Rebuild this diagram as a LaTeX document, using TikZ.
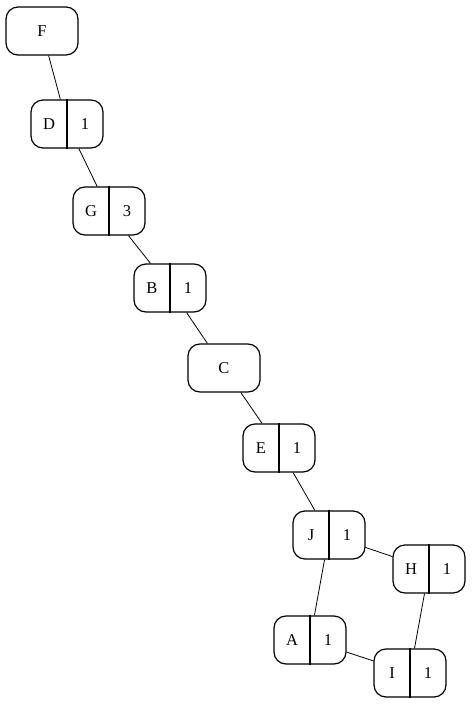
\documentclass[tikz,border=0pt]{standalone}
\usepackage{fontspec}
\setmainfont{Liberation Serif}
\begin{document}
\begin{tikzpicture}[x=1pt,y=-1pt,
        rec/.style={draw, line width=1.2pt, rounded corners=12pt, minimum width=72pt, minimum height=48pt, inner sep=0pt},
        lab/.style={inner sep=0pt, font=\fontsize{16.5}{18}\selectfont},
        edge/.style={line width=0.8pt}]
        \useasboundingbox (0,0) rectangle (473,705);
        % plain node
        \node[rec, lab] (F) at (42,31) {F};
        \node[rec, lab] (C) at (224,368) {C};
        % split nodes
        \foreach \n/\p/\l/\r in {D/{67,124}/D/1, G/{109,211}/G/3, B/{170,288}/B/1,
                E/{279,448}/E/1, J/{329,535}/J/1, H/{429,569}/H/1,
                A/{310,640}/A/1, I/{410,673}/I/1}{
            \node[rec] (\n) at (\p) {};
            \draw[line width=1.2pt] (\n.north) -- (\n.south);
            \node[lab] (\n l) at ([xshift=-18pt]\n.center) {\l};
            \node[lab] (\n r) at ([xshift=18pt]\n.center) {\r};
        }
        % edges
        \draw[edge] (F) -- (D);
        \draw[edge] (D) -- (G);
        \draw[edge] (G) -- (B);
        \draw[edge] (B) -- (C);
        \draw[edge] (C) -- (E);
        \draw[edge] (E) -- (J);
        \draw[edge] (J) -- (H);
        \draw[edge] (J) -- (A);
        \draw[edge] (A) -- (I);
        \draw[edge] (H) -- (I);
    \end{tikzpicture}
\end{document}
